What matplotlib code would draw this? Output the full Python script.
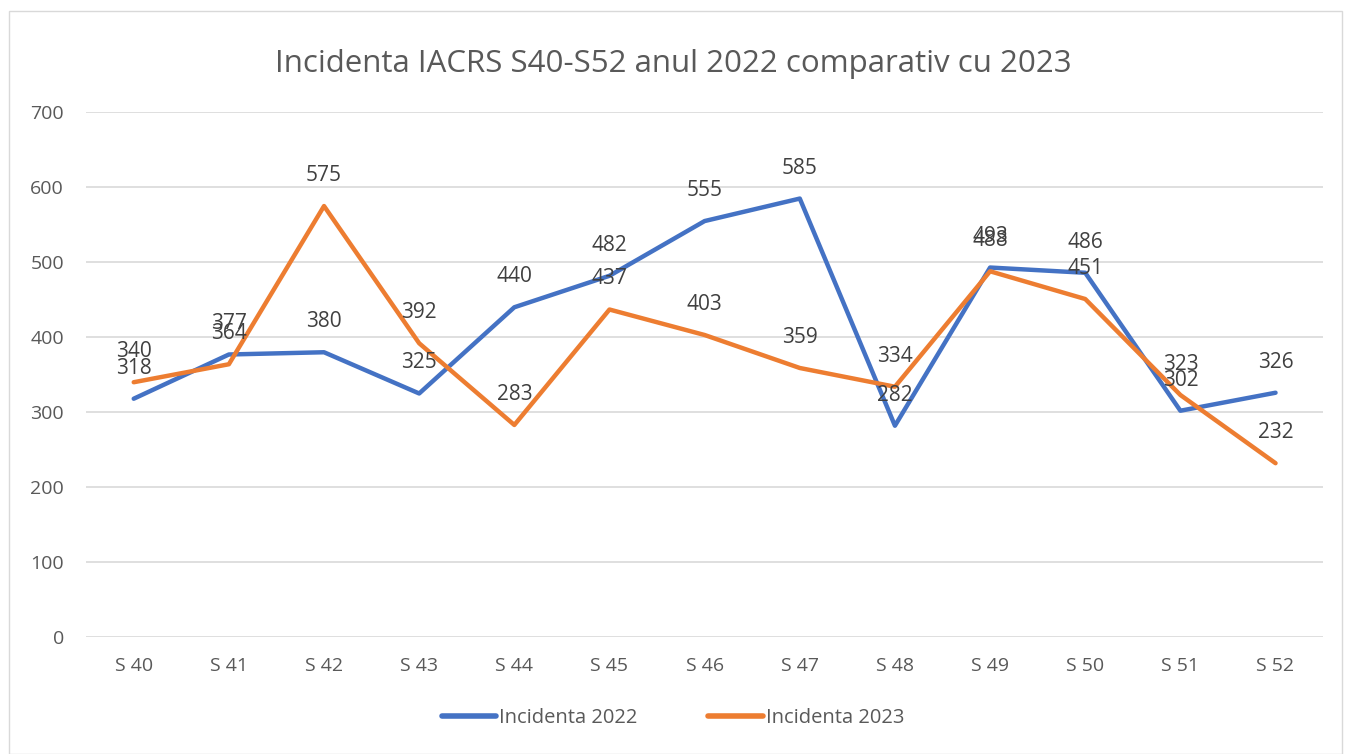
import matplotlib.pyplot as plt
import matplotlib.patches as mpatches

plt.rcParams['font.family'] = ['Open Sans', 'DejaVu Sans']

weeks = ['S 40', 'S 41', 'S 42', 'S 43', 'S 44', 'S 45', 'S 46',
         'S 47', 'S 48', 'S 49', 'S 50', 'S 51', 'S 52']
inc_2022 = [318, 377, 380, 325, 440, 482, 555, 585, 282, 493, 486, 302, 326]
inc_2023 = [340, 364, 575, 392, 283, 437, 403, 359, 334, 488, 451, 323, 232]

blue = '#4472C4'
orange = '#ED7D31'
txt = '#595959'

fig = plt.figure(figsize=(13.46, 7.54), dpi=100)
ax = fig.add_axes([0.064, 0.155, 0.919, 0.696])

x = range(len(weeks))
ax.plot(x, inc_2022, color=blue, lw=3.2, label='Incidenta 2022', solid_capstyle='round')
ax.plot(x, inc_2023, color=orange, lw=3.2, label='Incidenta 2023', solid_capstyle='round')

for i in x:
    ax.annotate(str(inc_2022[i]), (i, inc_2022[i]), xytext=(0, 22), textcoords='offset points',
                ha='center', va='center', fontsize=15, color='#404040')
    ax.annotate(str(inc_2023[i]), (i, inc_2023[i]), xytext=(0, 22), textcoords='offset points',
                ha='center', va='center', fontsize=15, color='#404040')

ax.set_xlim(-0.5, len(weeks) - 0.5)
ax.set_ylim(0, 700)
ax.set_yticks(range(0, 701, 100))
ax.set_xticks(list(x))
ax.set_xticklabels(weeks)
ax.grid(axis='y', color='#D9D9D9', lw=1.2)
ax.set_axisbelow(True)
for s in ax.spines.values():
    s.set_visible(False)
ax.tick_params(length=0, labelsize=14, colors=txt, pad=14)
ax.tick_params(axis='y', pad=16)

fig.suptitle('Incidenta IACRS S40-S52 anul 2022 comparativ cu 2023', y=0.935, fontsize=22.5, color=txt)

leg = fig.legend(loc='lower center', bbox_to_anchor=(0.5, 0.01), ncol=2, frameon=False,
                 fontsize=14.5, labelcolor=txt, handlelength=2.7, handletextpad=0.15, columnspacing=3.5)
for h in leg.legend_handles:
    h.set_linewidth(4)

fig.patches.append(mpatches.Rectangle((0.007, 0.0), 0.99, 0.985, transform=fig.transFigure,
                                      fill=False, edgecolor='#D9D9D9', lw=1))

fig.savefig('out.png')
